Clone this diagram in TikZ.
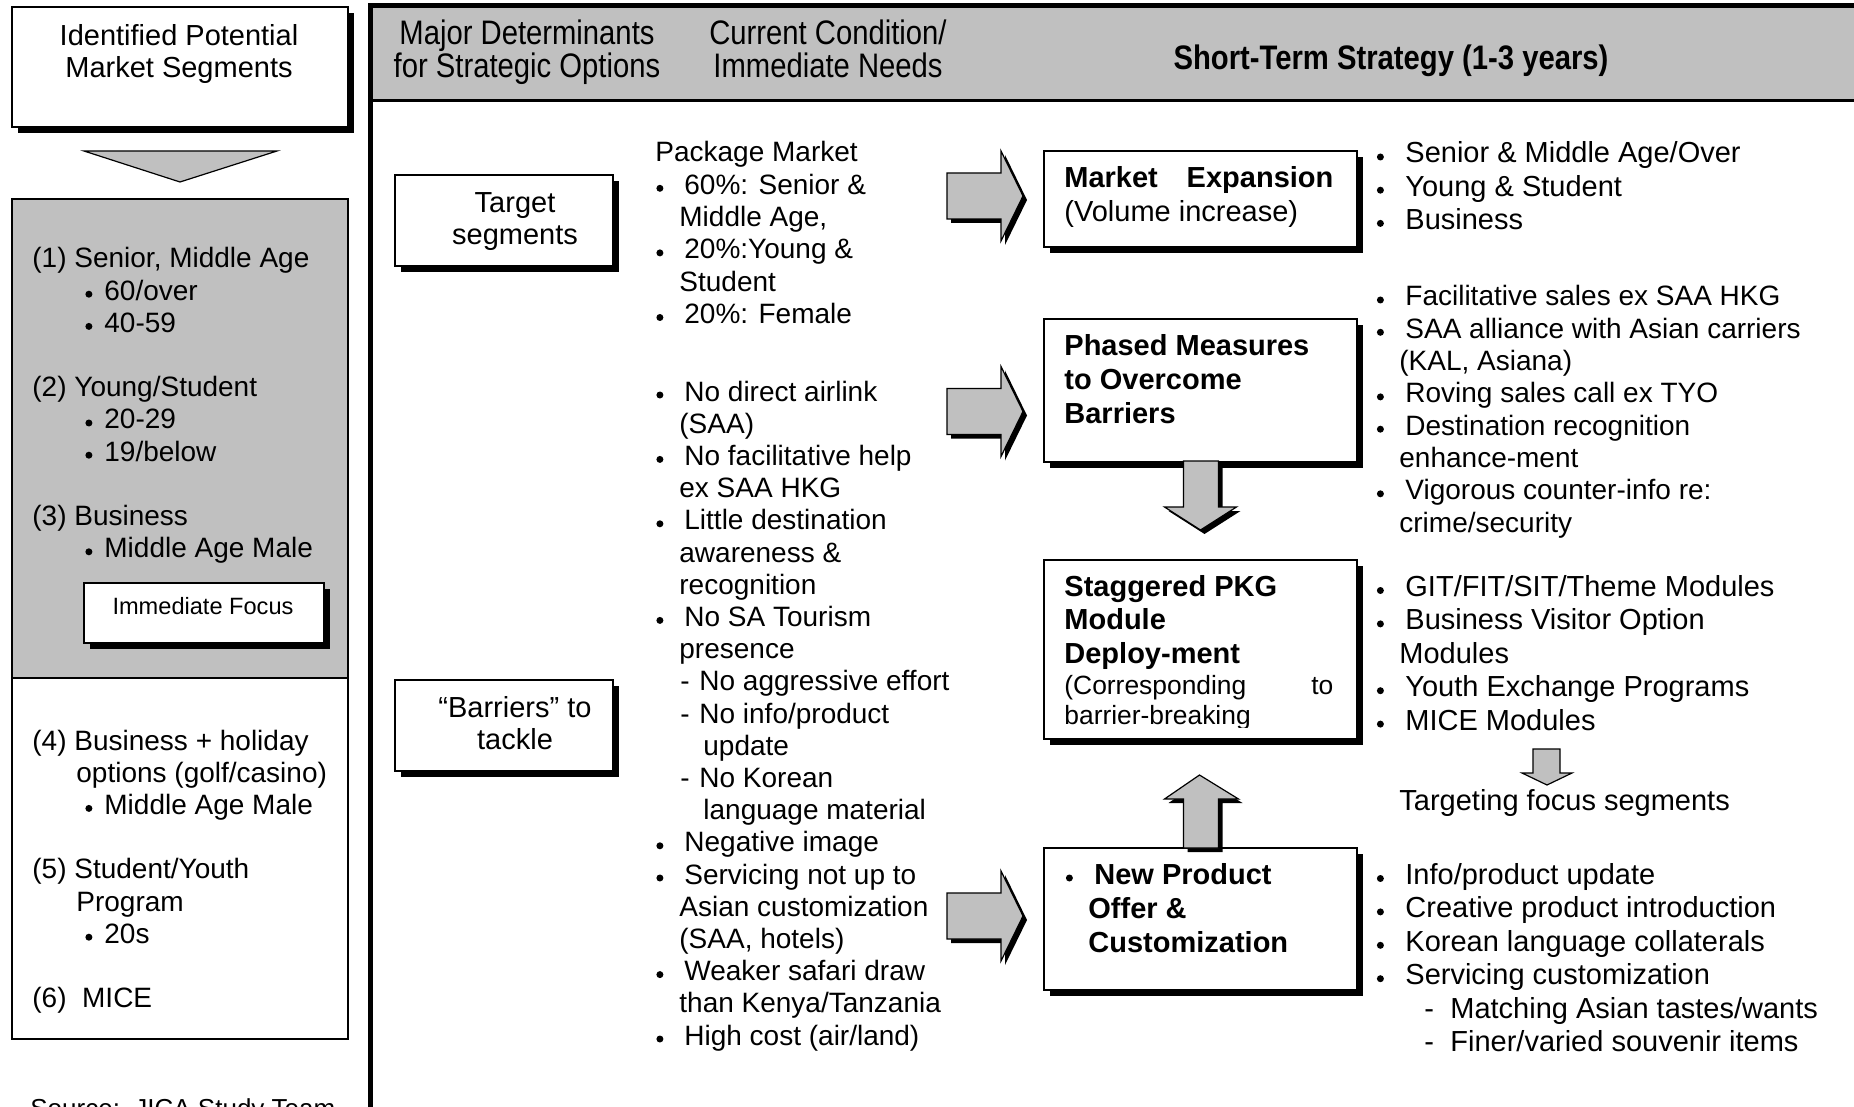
\documentclass[tikz,border=0pt]{standalone}
\usepackage{fontspec}
\setmainfont{Liberation Sans}
\newfontfamily\condensed[FakeStretch=0.86]{Liberation Sans}
\usetikzlibrary{calc,shadows}

\definecolor{panel}{RGB}{192,192,192}

% type sizes
\newcommand\fbody{\fontsize{14}{16}\selectfont}
\newcommand\fright{\fontsize{14.5}{17}\selectfont}
\newcommand\fhead{\condensed\fontsize{17}{20}\selectfont}
\newcommand\fsmall{\fontsize{11.8}{14}\selectfont}
\newcommand\fnote{\fontsize{13.2}{16}\selectfont}
\newcommand\fsrc{\fontsize{13}{16}\selectfont}

% list markers
\newcommand\dotmark{\tikz[baseline=0pt]\fill (0pt,3pt) circle[radius=1.75pt];}
\newcommand\bulbox[1]{\makebox[#1][c]{\dotmark}}
\newcommand\dashmark[1]{\makebox[#1][l]{-}}

% x position and prefix of each kind of list line
% left column: N numbered, B bullet, C continuation
\def\xLN{32}   \def\pLN{}
\def\xLB{73}   \def\pLB{\bulbox{15.5pt}}
\def\xLC{76}   \def\pLC{}
% middle column: P plain, B bullet, C continuation, D dash, E dash continuation
\def\xMP{655}  \def\pMP{}
\def\xMB{635}  \def\pMB{\bulbox{24.5pt}}
\def\xMC{679}  \def\pMC{}
\def\xMD{680}  \def\pMD{\dashmark{9.5pt}}
\def\xME{703}  \def\pME{}
% right column
\def\xRB{1355} \def\pRB{\bulbox{25pt}}
\def\xRC{1399} \def\pRC{}
\def\xRD{1424} \def\pRD{\dashmark{13pt}}

% #1 column, #2 name prefix, #3 first baseline, #4 line step, #5 kind/line/text entries
\newcommand\textlines[5]{%
  \foreach \k/\lno/\txt in {#5}{%
    \edef\curx{\csname x#1\k\endcsname}%
    \node[tl] (#2\lno) at (\curx, #3+#4*\lno) {\csname p#1\k\endcsname\txt};
  }}

\tikzset{
  tl/.style={anchor=base west, inner sep=0pt},
  tc/.style={anchor=base, inner sep=0pt},
  hd/.style={anchor=base, inner sep=0pt, font=\fhead},
  plainbox/.style={draw, line width=1pt, inner sep=0pt, anchor=north west},
  sbox/.style={plainbox, fill=white,
    general shadow={fill=black, shadow xshift=3pt, shadow yshift=-3pt}},
  blockarrow/.style={fill=panel, draw=black, line width=0.6pt,
    general shadow={fill=black, shadow xshift=2pt, shadow yshift=-2pt}},
  rarrow/.style={insert path={-- ++(-22,-45) -- ++(0,22) -- ++(-54,0) -- ++(0,46)
    -- ++(54,0) -- ++(0,22) -- cycle}},
  darrow/.style={insert path={-- ++(-36,-23) -- ++(19,0) -- ++(0,-46) -- ++(35,0)
    -- ++(0,46) -- ++(18,0) -- cycle}},
  uarrow/.style={insert path={-- ++(-35,24) -- ++(19,0) -- ++(0,49) -- ++(35,0)
    -- ++(0,-49) -- ++(20,0) -- cycle}},
  smallarrow/.style={insert path={-- ++(-25,-12) -- ++(11,0) -- ++(0,-24) -- ++(27,0)
    -- ++(0,24) -- ++(12,0) -- cycle}},
}

\begin{document}
\begin{tikzpicture}[x=0.5pt, y=-0.5pt]
\useasboundingbox (0,0) rectangle (1854,1107);
\fill[white] (0,0) rectangle (1854,1107);
\clip (0,0) rectangle (1854,1107);

% ---------------- left column: market segments ----------------
\node[sbox, minimum width=168pt, minimum height=60pt] (seg) at (11,6) {};
\node[tc, font=\fright] (segt1) at (179,46) {Identified Potential};
\node[tc, font=\fright] (segt2) at (179,78) {Market Segments};

\filldraw[fill=panel, line width=0.6pt]
  ($(seg.south)+(-96,23)$) -- ($(seg.south)+(97,23)$) -- ($(seg.south)+(0,54)$) -- cycle;

\node[plainbox, fill=panel, minimum width=168pt, minimum height=239.5pt] (focusseg) at (11,198) {};
\node[plainbox, fill=white, minimum width=168pt, minimum height=180.5pt] (otherseg) at (11,677) {};

\begin{scope}[font=\fbody]
\textlines{L}{ls}{268}{32.2}{N/0/{(1) Senior, Middle Age}, B/1/{60/over}, B/2/{40-59},
  N/4/{(2) Young/Student}, B/5/{20-29}, B/6/{19/below},
  N/8/{(3) Business}, B/9/{Middle Age Male}}
\textlines{L}{lw}{750}{32.2}{N/0/{(4) Business + holiday}, C/1/{options (golf/casino)},
  B/2/{Middle Age Male}, N/4/{(5) Student/Youth}, C/5/{Program}, B/6/{20s},
  N/8/{(6)\ \ MICE}}
\end{scope}

\node[sbox, minimum width=120pt, minimum height=30pt] (imm) at (83,582) {};
\node[tc, font=\fsmall] (immt) at (203,614) {Immediate Focus};

\node[tl, font=\fsrc] (src) at (30,1117) {Source:\ \ JICA Study Team};

% ---------------- strategy frame and header ----------------
\fill[panel] (372,7) rectangle (1900,100);
\draw[line width=1.5pt] (372,101) -- (1900,101);
\draw[line width=2.5pt] (1900,5.5) -- (370.5,5.5) -- (370.5,1150);

\node[hd] (hA1) at (527,45) {Major Determinants};
\node[hd] (hA2) at (527,78) {for Strategic Options};
\node[hd] (hB1) at (828,45) {Current Condition/};
\node[hd] (hB2) at (828,78) {Immediate Needs};
\node[hd, font=\fhead\bfseries] (hC) at (1391,70) {Short-Term Strategy (1-3 years)};

% ---------------- determinants ----------------
\node[sbox, minimum width=109pt, minimum height=45.5pt] (tgt) at (394,174) {};
\node[tc, font=\fright] (tgt1) at (515,213) {Target};
\node[tc, font=\fright] (tgt2) at (515,245) {segments};

\node[sbox, minimum width=109pt, minimum height=45.5pt] (bar) at (394,679) {};
\node[tc, font=\fright] (bar1) at (515,717) {“Barriers” to};
\node[tc, font=\fright] (bar2) at (515,749) {tackle};

% ---------------- current condition ----------------
\begin{scope}[font=\fbody]
\textlines{M}{pk}{162}{32.3}{P/0/{Package Market}, B/1/{60\%: Senior \&}, C/2/{Middle Age,},
  B/3/{20\%:Young \&}, C/4/{Student}, B/5/{20\%: Female}}
\textlines{M}{bl}{401}{32.2}{B/0/{No direct airlink}, C/1/{(SAA)}, B/2/{No facilitative help},
  C/3/{ex SAA HKG}, B/4/{Little destination}, C/5/{awareness \&}, C/6/{recognition},
  B/7/{No SA Tourism}, C/8/{presence}, D/9/{No aggressive effort}, D/10/{No info/product},
  E/11/{update}, D/12/{No Korean}, E/13/{language material}, B/14/{Negative image},
  B/15/{Servicing not up to}, C/16/{Asian customization}, C/17/{(SAA, hotels)},
  B/18/{Weaker safari draw}, C/19/{than Kenya/Tanzania}, B/20/{High cost (air/land)}}
\end{scope}

% ---------------- strategy boxes ----------------
\node[sbox, minimum width=156.5pt, minimum height=48pt] (me) at (1043,150) {};
\node[tl, font=\fright\bfseries] (me1) at (1064,188) {\makebox[134.5pt][l]{Market\hfill Expansion}};
\node[tl, font=\fright] (me2) at (1064,222) {(Volume increase)};

\node[sbox, minimum width=156.5pt, minimum height=71.5pt] (pm) at (1043,318) {};
\node[tl, font=\fright\bfseries] (pm1) at (1064,356) {Phased Measures};
\node[tl, font=\fright\bfseries] (pm2) at (1064,390) {to Overcome};
\node[tl, font=\fright\bfseries] (pm3) at (1064,423) {Barriers};

\node[sbox, minimum width=156.5pt, minimum height=89.5pt] (spkg) at (1043,559) {};
\node[tl, font=\fright\bfseries] (sp1) at (1064,596) {Staggered PKG};
\node[tl, font=\fright\bfseries] (sp2) at (1064,629.5) {Module};
\node[tl, font=\fright\bfseries] (sp3) at (1064,663) {Deploy-ment};
\node[tl, font=\fnote] (sp4) at (1064,694) {\makebox[134.5pt][l]{(Corresponding\hfill to}};
\coordinate (cutline) at (0,727);
\begin{scope}
  \clip ($(spkg.north west)+(2,2)$) rectangle (spkg.east |- cutline);
  \node[tl, font=\fnote] (sp5) at (1064,724) {barrier-breaking};
\end{scope}

\node[sbox, minimum width=156.5pt, minimum height=71pt] (np) at (1043,847) {};
\node[tl, font=\fright\bfseries] (np1) at (1044,884) {\bulbox{25pt}New Product};
\node[tl, font=\fright\bfseries] (np2) at (1088,918) {Offer \&};
\node[tl, font=\fright\bfseries] (np3) at (1088,952) {Customization};

% ---------------- block arrows ----------------
\filldraw[blockarrow] ($(me.west)+(-20,-3)$) [rarrow];
\filldraw[blockarrow] ($(pm.west)+(-20,21)$) [rarrow];
\filldraw[blockarrow] ($(np.west)+(-20,-3)$) [rarrow];
\filldraw[blockarrow] ($(spkg.north)+(0,-29)$) [darrow];
\filldraw[blockarrow] ($(spkg.south)+(-1,35)$) [uarrow];

% ---------------- strategy details ----------------
\begin{scope}[font=\fright]
\textlines{R}{ra}{163}{33.2}{B/0/{Senior \& Middle Age/Over}, B/1/{Young \& Student}, B/2/{Business}}
\begin{scope}[font=\fbody]
\textlines{R}{rb}{306}{32.3}{B/0/{Facilitative sales ex SAA HKG}, B/1/{SAA alliance with Asian carriers},
  C/2/{(KAL, Asiana)}, B/3/{Roving sales call ex TYO}, B/4/{Destination recognition},
  C/5/{enhance-ment}, B/6/{Vigorous counter-info re:}, C/7/{crime/security}}
\end{scope}
\textlines{R}{rc}{596.5}{33.4}{B/0/{GIT/FIT/SIT/Theme Modules}, B/1/{Business Visitor Option},
  C/2/{Modules}, B/3/{Youth Exchange Programs}, B/4/{MICE Modules}}
\node[tl] (tfs) at (1399,810.5) {Targeting focus segments};
\textlines{R}{rd}{884.5}{33.4}{B/0/{Info/product update}, B/1/{Creative product introduction},
  B/2/{Korean language collaterals}, B/3/{Servicing customization},
  D/4/{Matching Asian tastes/wants}, D/5/{Finer/varied souvenir items}}
\end{scope}

\filldraw[fill=panel, draw=black, line width=0.6pt] ($(tfs.base west)+(148,-25.5)$) [smallarrow];

\end{tikzpicture}
\end{document}
